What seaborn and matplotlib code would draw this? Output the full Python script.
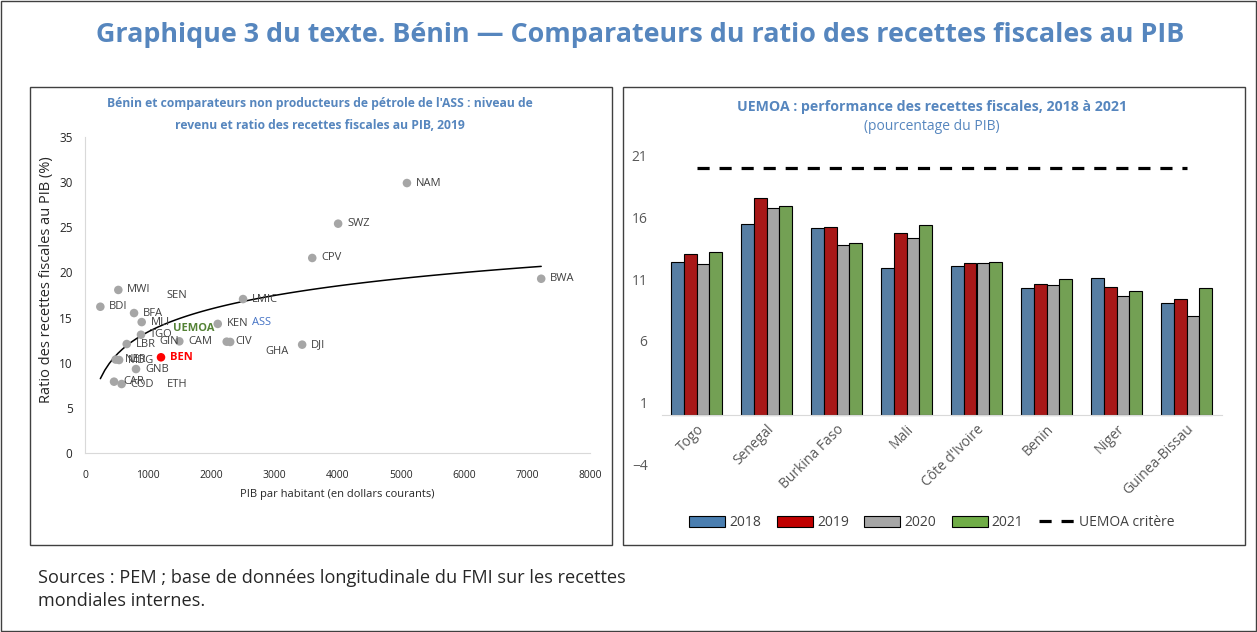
import numpy as np
import pandas as pd
import matplotlib.pyplot as plt
import seaborn as sns
from matplotlib.patches import Rectangle, Patch
from matplotlib.lines import Line2D
from matplotlib import transforms

# ----------------------------------------------------
# Data: left panel (GDP per capita vs tax ratio, 2019)
# ----------------------------------------------------
codes = ["NAM", "SWZ", "CPV", "BWA", "LMIC", "DJI", "CIV", "GHA", "KEN", "CAM",
         "MWI", "BDI", "BFA", "MLI", "TGO", "LBR", "NER", "MDG", "GNB", "CAR",
         "COD", "BEN", "SEN", "GIN", "ETH", "UEMOA", "ASS"]
gdp_pc = [5100, 4010, 3600, 7227, 2504, 3440, 2245, 2300, 2103, 1494,
          528, 243, 777, 898, 887, 661, 486, 540, 808, 460,
          580, 1204, 1450, 1030, 855, 1250, 2500]
tax_ratio = [29.9, 25.4, 21.6, 19.3, 17.05, 12.0, 12.33, 12.3, 14.3, 12.37,
             18.06, 16.2, 15.5, 14.5, 13.1, 12.07, 10.35, 10.3, 9.3, 7.9,
             7.64, 10.6, 17.5, 12.4, 7.7, 13.8, 14.4]
no_marker = ["SEN", "GIN", "ETH", "UEMOA", "ASS"]

# ----------------------------------------------------
# Data: right panel (UEMOA tax revenue, % of GDP)
# ----------------------------------------------------
countries = ["Togo", "Senegal", "Burkina Faso", "Mali", "Côte d'Ivoire",
             "Benin", "Niger", "Guinea-Bissau"]
years = ["2018", "2019", "2020", "2021"]
rev_2018 = [12.42, 15.48, 15.15, 11.86, 12.04, 10.26, 11.05, 9.05]
rev_2019 = [13.02, 17.58, 15.18, 14.77, 12.26, 10.58, 10.37, 9.37]
rev_2020 = [12.18, 16.77, 13.78, 14.34, 12.32, 10.53, 9.61, 7.99]
rev_2021 = [13.21, 16.91, 13.96, 15.40, 12.37, 11.02, 9.99, 10.26]
criterion = [20] * len(countries)

W, H = 1257, 632
TITLE_BLUE = "#5686BE"
LABEL_GREY = "#404040"
bar_colors = ["#4A7EB0", "#C00000", "#A6A6A6", "#70AD47"]

sns.set_style("white")
plt.rcParams["font.family"] = ["Open Sans", "DejaVu Sans"]


def fx(x):
    return x / W


def fy(y):
    return 1 - y / H


fig = plt.figure(figsize=(W / 100, H / 100), dpi=100)

# frames
fig.add_artist(Rectangle((fx(1), fy(631)), fx(1255), 630 / H, transform=fig.transFigure,
                         fill=False, edgecolor="#404040", lw=1))
fig.add_artist(Rectangle((fx(30), fy(545)), fx(582), 458 / H, transform=fig.transFigure,
                         fill=False, edgecolor="#404040", lw=1))
fig.add_artist(Rectangle((fx(623), fy(545)), fx(622), 458 / H, transform=fig.transFigure,
                         fill=False, edgecolor="#404040", lw=1))

fig.text(fx(640), fy(35), "Graphique 3 du texte. Bénin — Comparateurs du ratio des recettes fiscales au PIB",
         ha="center", va="center", fontsize=19.4, fontweight="bold", color=TITLE_BLUE)

# ----------------------------------------------------
# Left panel
# ----------------------------------------------------
df = pd.DataFrame({"code": codes, "gdp": gdp_pc, "tax": tax_ratio})
ax1 = fig.add_axes([fx(85), fy(453), 505 / W, 316 / H])

# logarithmic trend line over all points
sns.regplot(data=df, x="gdp", y="tax", logx=True, scatter=False, ci=None,
            color="black", line_kws={"lw": 1.1}, ax=ax1)

shown = df[~df["code"].isin(no_marker)]
sns.scatterplot(data=shown[shown["code"] != "BEN"], x="gdp", y="tax", color="#A6A6A6",
                s=38, edgecolor="none", ax=ax1, zorder=3)
sns.scatterplot(data=shown[shown["code"] == "BEN"], x="gdp", y="tax", color="#FF0000",
                s=38, edgecolor="none", ax=ax1, zorder=4)

# label offsets in pixels (dx, dy)
offsets = {"SEN": (0, 0), "GHA": (35, -10), "ETH": (28, -1)}
for code, gx, ty in zip(codes, gdp_pc, tax_ratio):
    dx, dy = offsets.get(code, (9, 0))
    ha = "center" if code == "SEN" else "left"
    color, weight = LABEL_GREY, "normal"
    if code == "BEN":
        color, weight = "#FF0000", "bold"
    elif code == "UEMOA":
        color, weight = "#548235", "bold"
    elif code == "ASS":
        color = "#4472C4"
    tr = transforms.offset_copy(ax1.transData, fig=fig, x=dx, y=dy, units="dots")
    ax1.text(gx, ty, code, transform=tr, ha=ha, va="center", fontsize=8,
             color=color, fontweight=weight, zorder=5)

ax1.set_xlim(0, 8000)
ax1.set_ylim(0, 35)
ax1.set_xticks(range(0, 8001, 1000))
ax1.set_yticks(range(0, 36, 5))
ax1.tick_params(axis="x", labelsize=7.5, length=0, pad=12, colors="#262626")
ax1.tick_params(axis="y", labelsize=8.5, length=0, pad=9, colors="#262626")
ax1.set_xlabel("PIB par habitant (en dollars courants)", fontsize=8, color="#262626", labelpad=6)
ax1.set_ylabel("Ratio des recettes fiscales au PIB (%)", fontsize=10.5, color="#262626")
ax1.yaxis.set_label_coords(-0.062, 0.55)
for side in ["top", "right"]:
    ax1.spines[side].set_visible(False)
for side in ["left", "bottom"]:
    ax1.spines[side].set_color("#D9D9D9")

fig.text(fx(320), fy(103), "Bénin et comparateurs non producteurs de pétrole de l'ASS : niveau de",
         ha="center", va="center", fontsize=8.7, fontweight="bold", color=TITLE_BLUE)
fig.text(fx(320), fy(126), "revenu et ratio des recettes fiscales au PIB, 2019",
         ha="center", va="center", fontsize=8.7, fontweight="bold", color=TITLE_BLUE)

# ----------------------------------------------------
# Right panel
# ----------------------------------------------------
rev = pd.DataFrame({"country": countries * 4,
                    "year": np.repeat(years, len(countries)),
                    "value": rev_2018 + rev_2019 + rev_2020 + rev_2021})
ax2 = fig.add_axes([fx(661.5), fy(464), 560 / W, 308.3 / H])
sns.barplot(data=rev, x="country", y="value", hue="year", palette=bar_colors,
            width=0.73, edgecolor="black", linewidth=0.8, legend=False, ax=ax2)
ax2.plot(np.arange(len(countries)), criterion, color="black", lw=2.3,
         linestyle=(0, (3.8, 3.1)), zorder=5)

ax2.set_xlim(-0.5, len(countries) - 0.5)
ax2.set_ylim(-4, 21)
ax2.set_yticks([-4, 1, 6, 11, 16, 21])
ax2.set_xlabel("")
ax2.set_ylabel("")
ax2.spines["bottom"].set_position(("data", 0))
ax2.spines["bottom"].set_color("#D9D9D9")
for side in ["top", "right", "left"]:
    ax2.spines[side].set_visible(False)
ax2.tick_params(axis="y", labelsize=10, length=0, pad=10, colors="#595959")
ax2.tick_params(axis="x", labelsize=10, length=0, pad=5, colors="#595959")
plt.setp(ax2.get_xticklabels(), rotation=45, ha="right", rotation_mode="anchor")

fig.text(fx(932), fy(107), "UEMOA : performance des recettes fiscales, 2018 à 2021",
         ha="center", va="center", fontsize=10.2, fontweight="bold", color=TITLE_BLUE)
fig.text(fx(932), fy(127), "(pourcentage du PIB)",
         ha="center", va="center", fontsize=10, color=TITLE_BLUE)

handles = [Patch(facecolor=c, edgecolor="black", lw=0.8, label=y) for c, y in zip(bar_colors, years)]
handles.append(Line2D([0], [0], color="black", lw=2.3, linestyle=(0, (3.8, 3.1)), label="UEMOA critère"))
fig.legend(handles=handles, loc="center", bbox_to_anchor=(fx(932), fy(523)), ncol=5,
           frameon=False, fontsize=10, handlelength=2.6, handleheight=0.8,
           columnspacing=1.1, handletextpad=0.3, labelcolor="#404040")

fig.text(fx(38), fy(578), "Sources : PEM ; base de données longitudinale du FMI sur les recettes",
         ha="left", va="center", fontsize=13.1, color="#262626")
fig.text(fx(38), fy(601), "mondiales internes.",
         ha="left", va="center", fontsize=13.1, color="#262626")

fig.savefig("out.png", dpi=100)
